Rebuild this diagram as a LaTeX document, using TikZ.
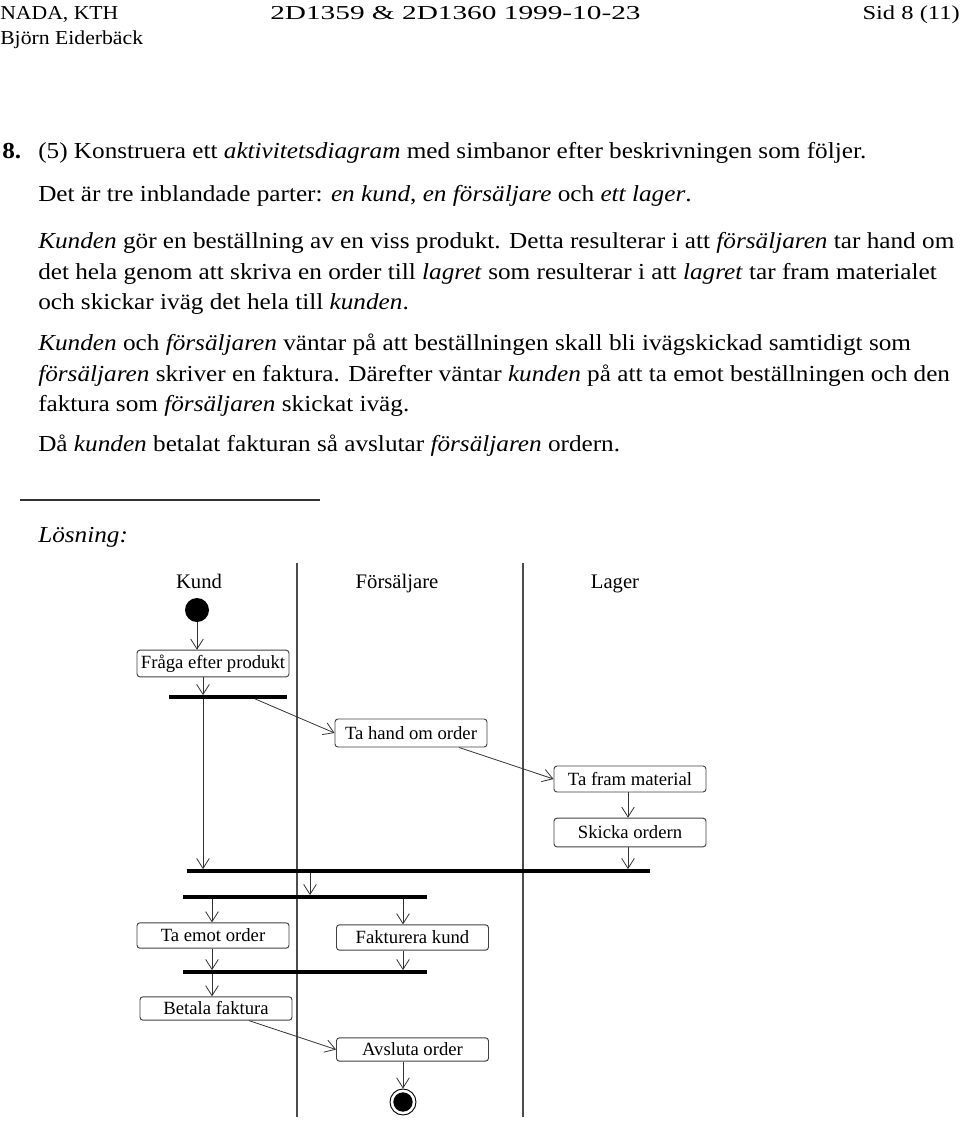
\documentclass[tikz,border=0pt]{standalone}
\usepackage{fontspec}
\setmainfont{Liberation Serif}
\newfontfamily\bodyfont{Liberation Serif}[FakeStretch=1.1]
\usetikzlibrary{arrows.meta}
\tikzset{
  lane/.style={draw=black!70, line width=0.8pt},
  act/.style={draw=black!75, rounded corners=2.2pt, line width=0.7pt, minimum width=114pt, inner sep=0pt, font=\fontsize{14}{16}\selectfont},
  bar/.style={fill=black, inner sep=0pt, minimum height=2.4pt},
  arr/.style={draw=black!80, line width=0.6pt, -{Straight Barb[length=7.5pt,width=9.5pt,line width=0.6pt]}},
  body/.style={anchor=base west, inner sep=0pt, font=\bodyfont\fontsize{17.2}{19}\selectfont},
  headtxt/.style={inner sep=0pt, font=\bodyfont\fontsize{14.8}{17}\selectfont},
  lanehead/.style={anchor=base, font=\fontsize{15.5}{18}\selectfont, inner sep=0pt},
}
\begin{document}
\begin{tikzpicture}[x=0.75pt,y=-0.75pt]
\useasboundingbox (0,0) rectangle (960,1122);
% header
\node[headtxt, anchor=base west] (h1) at (0,19) {NADA, KTH};
\node[headtxt, anchor=base west] (h2) at (0,44) {Björn Eiderbäck};
\node[headtxt, anchor=base west] (h3) at (270,19) {\scalebox{1.35}[1]{2D1359 \& 2D1360 1999-10-23}};
\node[headtxt, anchor=base east] (h4) at (960,19) {\scalebox{1.13}[1]{Sid 8 (11)}};
% body text
\node[body] (t0) at (2,158) {\textbf{8.}};
\node[body] (t1) at (38,158) {(5) Konstruera ett \textit{aktivitetsdiagram} med simbanor efter beskrivningen som följer.};
\node[body] (t2) at (38,201) {Det är tre inblandade parter: \textit{en kund}, \textit{en försäljare} och \textit{ett lager}.};
\node[body] (t3) at (38,248) {\textit{Kunden} gör en beställning av en viss produkt. Detta resulterar i att \textit{försäljaren} tar hand om};
\node[body] (t4) at (38,279) {det hela genom att skriva en order till \textit{lagret} som resulterar i att \textit{lagret} tar fram materialet};
\node[body] (t5) at (38,309) {och skickar iväg det hela till \textit{kunden}.};
\node[body] (t6) at (38,350) {\textit{Kunden} och \textit{försäljaren} väntar på att beställningen skall bli ivägskickad samtidigt som};
\node[body] (t7) at (38,381) {\textit{försäljaren} skriver en faktura. Därefter väntar \textit{kunden} på att ta emot beställningen och den};
\node[body] (t8) at (38,411) {faktura som \textit{försäljaren} skickat iväg.};
\node[body] (t9) at (38,451) {Då \textit{kunden} betalat fakturan så avslutar \textit{försäljaren} ordern.};
\coordinate (r1) at (20,500);
\coordinate (r2) at (320,500);
\draw[line width=0.8pt, black!80] (r1) -- (r2);
\node[body] (sol) at (38,542) {\textit{Lösning:}};
% swimlanes
\coordinate (l1t) at (297,563);
\coordinate (l1b) at (297,1117);
\coordinate (l2t) at (523,563);
\coordinate (l2b) at (523,1117);
\draw[lane] (l1t) -- (l1b);
\draw[lane] (l2t) -- (l2b);
\node[lanehead] (hk) at (199,588) {Kund};
\node[lanehead] (hf) at (397,588) {Försäljare};
\node[lanehead] (hl) at (615,588) {Lager};
% start
\node[circle, fill=black, minimum size=18pt, inner sep=0pt] (start) at (197,610) {};
% activities
\node[act, minimum height=20pt] (fraga) at (213,663.5) {Fråga efter produkt};
\node[act, minimum height=21pt] (tahand) at (411,733) {Ta hand om order};
\node[act, minimum height=19.5pt] (tafram) at (630,779) {Ta fram material};
\node[act, minimum height=21.5pt] (skicka) at (630,832.5) {Skicka ordern};
\node[act, minimum height=19pt] (taemot) at (213,935.5) {Ta emot order};
\node[act, minimum height=19pt] (faktura) at (412.5,937.5) {Fakturera kund};
\node[act, minimum height=17.5pt] (betala) at (216,1008.5) {Betala faktura};
\node[act, minimum height=17.5pt] (avsluta) at (412.5,1049.5) {Avsluta order};
% bars
\node[bar, minimum width=88.5pt] (b1) at (228,697) {};
\node[bar, minimum width=347pt] (b2) at (418.5,871) {};
\node[bar, minimum width=183pt] (b3) at (305,897) {};
\node[bar, minimum width=183pt] (b4) at (305,972) {};
% end
\node[circle, draw=black, line width=0.7pt, minimum size=19.5pt, inner sep=0pt] (end) at (403,1102) {};
\node[circle, fill=black, minimum size=14.5pt, inner sep=0pt] (endin) at (403,1102) {};
% x guide coordinates
\coordinate (x203) at (203,0);
\coordinate (x255) at (255,0);
\coordinate (x459) at (459,0);
\coordinate (x628) at (628,0);
\coordinate (x310) at (310,0);
\coordinate (x212) at (212,0);
\coordinate (x403) at (403,0);
\coordinate (x249) at (249,0);
% connectors
\draw[arr] (start.south) -- (start.south |- fraga.north);
\draw[arr] (fraga.south -| x203) -- (b1.north -| x203);
\draw[arr] (b1.south -| x203) -- (b2.north -| x203);
\draw[arr] (b1.south -| x255) -- (tahand.west);
\draw[arr] (tahand.south -| x459) -- (tafram.west);
\draw[arr] (tafram.south -| x628) -- (skicka.north -| x628);
\draw[arr] (skicka.south -| x628) -- (b2.north -| x628);
\draw[arr] (b2.south -| x310) -- (b3.north -| x310);
\draw[arr] (b3.south -| x212) -- (taemot.north -| x212);
\draw[arr] (b3.south -| x403) -- (faktura.north -| x403);
\draw[arr] (taemot.south -| x212) -- (b4.north -| x212);
\draw[arr] (faktura.south -| x403) -- (b4.north -| x403);
\draw[arr] (b4.south -| x212) -- (betala.north -| x212);
\draw[arr] (betala.south -| x249) -- (avsluta.west);
\draw[arr] (avsluta.south -| x403) -- (end.north);
\end{tikzpicture}
\end{document}
